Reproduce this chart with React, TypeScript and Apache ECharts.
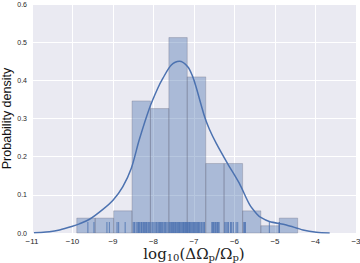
import React, { useEffect, useRef } from "react";
import * as echarts from "echarts";

// Histogram bin edges (log10 units) and densities
const binEdges = [-9.894, -9.44, -8.985, -8.53, -8.076, -7.62, -7.167, -6.71, -6.258, -5.80, -5.35, -4.893, -4.44];
const binDensity = [0.039, 0.039, 0.058, 0.346, 0.326, 0.512, 0.409, 0.182, 0.182, 0.058, 0.019, 0.039];

// KDE curve
const kdeX = [-10.95, -10.8, -10.57, -10.32, -10.02, -9.83, -9.58, -9.25, -9.0, -8.76, -8.55, -8.35, -8.1, -7.9, -7.77, -7.56, -7.36, -7.15, -7.03, -6.95, -6.74, -6.62, -6.45, -6.17, -5.88, -5.63, -5.45, -5.34, -5.14, -4.72, -4.31, -3.98, -3.65];
const kdeY = [0.0005, 0.001, 0.003, 0.008, 0.017, 0.024, 0.036, 0.062, 0.086, 0.121, 0.169, 0.245, 0.327, 0.378, 0.405, 0.44, 0.45, 0.435, 0.409, 0.383, 0.305, 0.272, 0.235, 0.182, 0.13, 0.075, 0.05, 0.04, 0.03, 0.021, 0.008, 0.002, 0.0];

// Rug (individual observations)
const rugValues = [
  -9.62, -9.47,
  -9.15, -9.09,
  -8.9, -8.86, -8.7,
  -8.5, -8.47, -8.43, -8.4, -8.37, -8.35, -8.33, -8.3, -8.29, -8.26, -8.25, -8.22, -8.2, -8.17, -8.16, -8.13, -8.11, -8.09,
  -8.06, -8.02, -7.99, -7.96, -7.93, -7.91, -7.88, -7.85, -7.83, -7.81, -7.79, -7.77, -7.74, -7.72, -7.7, -7.67, -7.64,
  -7.61, -7.59, -7.57, -7.55, -7.54, -7.52, -7.51, -7.49, -7.47, -7.46, -7.44, -7.42, -7.4, -7.39, -7.37, -7.36, -7.34, -7.32, -7.3, -7.28, -7.26, -7.25, -7.23, -7.21, -7.19, -7.18,
  -7.16, -7.14, -7.12, -7.11, -7.09, -7.07, -7.05, -7.03, -7.01, -6.99, -6.97, -6.95, -6.93, -6.91, -6.89, -6.87, -6.85, -6.82, -6.8, -6.77, -6.74,
  -6.56, -6.54, -6.52, -6.5, -6.47, -6.45, -6.42, -6.4, -6.38,
  -6.24, -6.21, -6.18, -6.15, -6.1, -6.07, -6.03, -5.96, -5.92,
  -5.77, -5.75, -5.73,
  -5.14,
  -4.9, -4.89,
];

const BLUE = "#4C72B0";

const fmtX = (v: number) => (v < 0 ? "\u2212" + Math.abs(v) : String(v));

export default function App() {
  const ref = useRef<HTMLDivElement>(null);
  useEffect(() => {
    if (!ref.current) return;
    const chart = echarts.init(ref.current, null, { renderer: "svg" });
    const histData = binDensity.map((h, i) => [binEdges[i], binEdges[i + 1], h]);
    chart.setOption({
      animation: false,
      backgroundColor: "#ffffff",
      grid: {
        left: 32, right: 4, top: 4, bottom: 30,
        show: true, backgroundColor: "#EAEAF2", borderWidth: 0,
        containLabel: false, outerBoundsMode: "none",
      },
      xAxis: {
        type: "value",
        min: -11,
        max: -3,
        interval: 1,
        axisLine: { show: false },
        axisTick: { show: false },
        splitLine: { show: true, lineStyle: { color: "#ffffff", width: 1 } },
        axisLabel: { formatter: fmtX, color: "#262626", fontSize: 8, fontFamily: "Liberation Sans", margin: 4 },
        name: "{n|log}{s|10}{n|(\u0394\u03A9}{s|p}{n|/\u03A9}{s|p}{n|)}",
        nameLocation: "middle",
        nameMoveOverlap: false,
        nameGap: 13,
        nameTextStyle: {
          lineHeight: 16,
          rich: {
            n: { fontFamily: "DejaVu Serif", fontSize: 15, color: "#222", lineHeight: 16 },
            s: { fontFamily: "DejaVu Serif", fontSize: 10, color: "#222", verticalAlign: "bottom", lineHeight: 11, padding: [5, 0, 0, 0] },
          },
        },
      },
      yAxis: {
        type: "value",
        min: 0,
        max: 0.6,
        interval: 0.1,
        axisLine: { show: false },
        axisTick: { show: false },
        splitLine: { show: true, lineStyle: { color: "#ffffff", width: 1 } },
        axisLabel: { formatter: (v: number) => v.toFixed(1), color: "#262626", fontSize: 7, fontFamily: "Liberation Sans", margin: 5 },
        name: "Probability density",
        nameLocation: "middle",
        nameMoveOverlap: false,
        nameGap: 19,
        nameTextStyle: { fontFamily: "Liberation Sans", fontSize: 12.5, color: "#111" },
      },
      series: [
        {
          type: "custom",
          data: histData,
          encode: { x: [0, 1], y: 2 },
          renderItem: (params: any, api: any) => {
            const p0 = api.coord([api.value(0), api.value(2)]);
            const p1 = api.coord([api.value(1), 0]);
            return {
              type: "rect",
              shape: { x: p0[0], y: p0[1], width: p1[0] - p0[0], height: p1[1] - p0[1] },
              style: { fill: "rgba(76,114,176,0.4)", stroke: "rgba(100,100,120,0.3)", lineWidth: 1 },
            };
          },
          z: 2,
        },
        {
          type: "custom",
          data: rugValues.map((v) => [v, 0]),
          encode: { x: 0, y: 1 },
          renderItem: (params: any, api: any) => {
            const p = api.coord([api.value(0), 0]);
            return {
              type: "line",
              shape: { x1: p[0], y1: p[1], x2: p[0], y2: p[1] - 11 },
              style: { stroke: BLUE, lineWidth: 1, opacity: 0.85 },
            };
          },
          z: 3,
        },
        {
          type: "line",
          data: kdeX.map((x, i) => [x, kdeY[i]]),
          smooth: 0.3,
          showSymbol: false,
          symbol: "none",
          lineStyle: { color: BLUE, width: 1.5 },
          z: 4,
        },
      ],
    });
    return () => chart.dispose();
  }, []);
  return <div ref={ref} style={{ position: "fixed", left: 0, top: 0, width: 360, height: 263 }} />;
}
